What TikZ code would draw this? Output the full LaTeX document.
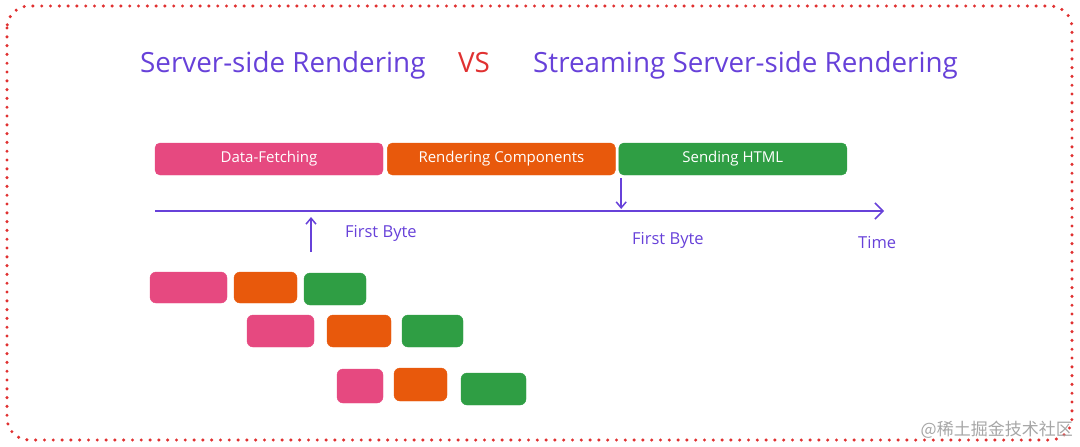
\documentclass[tikz,border=0pt]{standalone}
\usepackage{fontspec}
\setmainfont{Open Sans}
\newfontfamily\cjk{Noto Sans CJK SC}
\usepackage{tikz}
\usetikzlibrary{positioning,arrows.meta,calc}
\definecolor{ssrpink}{HTML}{E64980}
\definecolor{ssrorange}{HTML}{E8590C}
\definecolor{ssrgreen}{HTML}{2F9E44}
\definecolor{ssrviolet}{HTML}{6741D9}
\definecolor{ssrred}{HTML}{E03131}

\begin{document}
\begin{tikzpicture}[
    x=1pt, y=-1pt,
    title/.style={font=\fontsize{27.8}{32}\selectfont, text=ssrviolet, inner sep=0pt},
    bar/.style={draw=#1, fill=#1, rounded corners=5pt, inner sep=0pt, minimum height=32pt, text=white, font=\fontsize{15}{18}\selectfont},
    chunk/.style={draw=#1, fill=#1, rounded corners=6pt, inner sep=0pt},
    tline/.style={draw=ssrviolet, line width=1.5pt, -{Straight Barb[length=8pt, width=16pt, line width=1.5pt]}},
    tarrow/.style={draw=ssrviolet, line width=1.5pt, -{Straight Barb[length=6pt, width=10pt, line width=1.5pt]}},
    lbl/.style={font=\fontsize{16.5}{19}\selectfont, text=ssrviolet, inner sep=0pt}
]

\useasboundingbox (0,0) rectangle (1080,447);

% Frame
\draw[ssrred, line width=3.4pt, line cap=round, dash pattern=on 0pt off 8.8pt, rounded corners=22pt] (7,6) rectangle (1072,440);

% Title
\node[title, anchor=base west] (ssr) at (140,72) {Server-side Rendering};
\node[title, anchor=base west, text=ssrred] (vs) at (458,72) {VS};
\node[title, anchor=base west] (sssr) at (533,72) {Streaming Server-side Rendering};

% Phases
\node[bar=ssrpink, minimum width=228pt] (fetch) at (269,159) {Data-Fetching};
\node[bar=ssrorange, minimum width=228pt, right=4pt of fetch] (render) {Rendering Components};
\node[bar=ssrgreen, minimum width=228pt, right=3pt of render] (send) {Sending HTML};

% Timeline
\coordinate (tl0) at (155,211);
\coordinate (tl1) at (884,211);
\draw[tline] (tl0) -- (tl1);
\node[lbl, anchor=west] (tlabel) at (858,243) {Time};

% First byte, classic SSR
\draw[tarrow] ($(send.south west)+(2.6,3)$) -- ($(send.south west |- tl0)+(2.6,-2)$);
\node[lbl, anchor=west] (fbssr) at (632,240) {First Byte};

% First byte, streaming SSR
\coordinate (fb) at (311,252);
\draw[tarrow] (fb) -- ($(fb |- tl0)+(0,6)$);
\node[lbl, anchor=west] (fbsssr) at (345,233) {First Byte};

% Streamed chunks row 1
\node[chunk=ssrpink, minimum width=77pt, minimum height=31pt] (p1) at (188.5,287.5) {};
\node[chunk=ssrorange, minimum width=63pt, minimum height=31pt] (o1) at (265.5,287.5) {};
\node[chunk=ssrgreen, minimum width=62pt, minimum height=32pt] (g1) at (335,289) {};

% Streamed chunks row 2
\node[chunk=ssrpink, minimum width=67pt, minimum height=32pt] (p2) at (280.5,331) {};
\node[chunk=ssrorange, minimum width=64pt, minimum height=32pt] (o2) at (359,331) {};
\node[chunk=ssrgreen, minimum width=61pt, minimum height=32pt] (g2) at (432.5,331) {};

% Streamed chunks row 3
\node[chunk=ssrpink, minimum width=46pt, minimum height=34pt] (p3) at (360,386) {};
\node[chunk=ssrorange, minimum width=53pt, minimum height=33pt] (o3) at (420.5,384.5) {};
\node[chunk=ssrgreen, minimum width=65pt, minimum height=32pt] (g3) at (493.5,389) {};

% Watermark
\node[anchor=east, inner sep=0pt, text=black!35, font=\cjk\fontsize{17}{20}\selectfont] (mark) at (1073,430) {@稀土掘金技术社区};

\end{tikzpicture}
\end{document}
